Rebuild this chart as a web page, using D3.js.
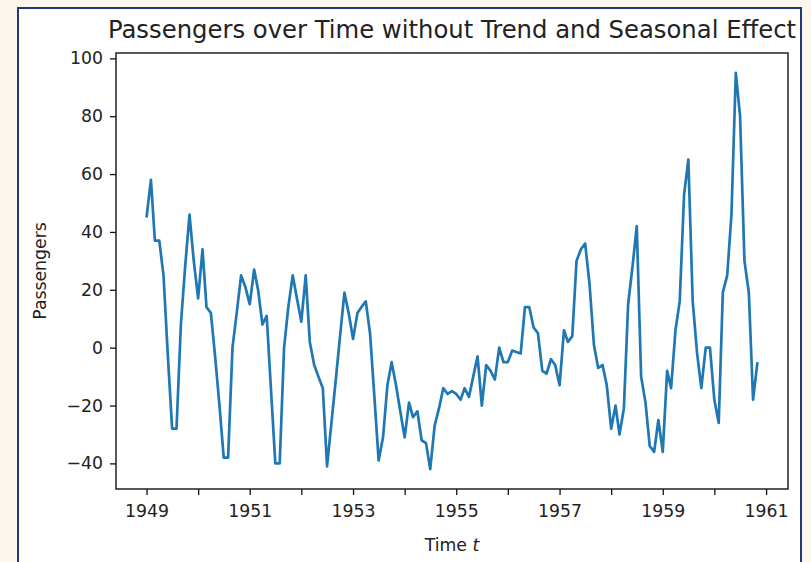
<!DOCTYPE html>
<html>
<head>
<meta charset="utf-8">
<script src="https://cdn.jsdelivr.net/npm/d3@7"></script>
<style>
  body { margin: 0; background: #fdf6ec; }
  text { font-family: "DejaVu Sans", sans-serif; fill: #222; }
</style>
</head>
<body>
<div id="chart"></div>
<script>
// monthly values from Jan 1949 on
const startYear = 1949;
const values = [
  45, 58, 37, 37, 25, -3, -28, -28, 8, 28, 46, 30,
  17, 34, 14, 12, -3, -20, -38, -38, 0, 12, 25, 21,
  15, 27, 20, 8, 11, -15, -40, -40, 0, 14, 25, 17,
  9, 25, 2, -6, -10, -14, -41, -26, -11, 4, 19, 12,
  3, 12, 14, 16, 5, -17, -39, -31, -13, -5, -13, -22,
  -31, -19, -24, -22, -32, -33, -42, -27, -21, -14, -16, -15,
  -16, -18, -14, -17, -10, -3, -20, -6, -8, -11, 0, -5,
  -5, -1, -1.5, -2, 14, 14, 7, 5, -8, -9, -4, -6,
  -13, 6, 2, 4, 30, 34, 36, 22, 1, -7, -6, -13,
  -28, -20, -30, -21, 15, 28, 42, -10, -19, -34, -36, -25,
  -36, -8, -14, 6, 16, 53, 65, 16, -2, -14, 0, 0,
  -18, -26, 19, 25, 46, 95, 80, 30, 19, -18, -5
];
const yTicks = [-40, -20, 0, 20, 40, 60, 80, 100];
const titleText = "Passengers over Time without Trend and Seasonal Effect";
const xLabel = "Time ";
const yLabel = "Passengers";

(function() {
  var outerWidth = 811,
      outerHeight = 562,
      margin = { top: 53, right: 23, bottom: 73, left: 116 },
      width = outerWidth - margin.left - margin.right,
      height = outerHeight - margin.top - margin.bottom;

  var data = values.map((v, i) => ({ date: new Date(startYear, i, 1), value: v }));

  var svg = d3.select("#chart").append("svg")
      .attr("width", outerWidth)
      .attr("height", outerHeight);

  // page frame
  svg.append("rect")
      .attr("width", outerWidth)
      .attr("height", outerHeight)
      .attr("fill", "#fdf6ec");

  svg.append("rect")
      .attr("x", 18)
      .attr("y", 8)
      .attr("width", 783)
      .attr("height", 600)
      .attr("fill", "white")
      .attr("stroke", "#1d3a78")
      .attr("stroke-width", 2);

  // matplotlib style 5% margins
  var tExt = d3.extent(data, d => +d.date),
      tPad = (tExt[1] - tExt[0]) * 0.05,
      vExt = d3.extent(data, d => d.value),
      vPad = (vExt[1] - vExt[0]) * 0.05;

  var x = d3.scaleTime()
      .domain([new Date(tExt[0] - tPad), new Date(tExt[1] + tPad)])
      .range([0, width]);

  var y = d3.scaleLinear()
      .domain([vExt[0] - vPad, vExt[1] + vPad])
      .range([height, 0]);

  var g = svg.append("g")
      .attr("transform", "translate(" + margin.left + "," + margin.top + ")");

  var line = d3.line()
      .x(d => x(d.date))
      .y(d => y(d.value));

  g.append("path")
      .datum(data)
      .attr("d", line)
      .attr("fill", "none")
      .attr("stroke", "#1f77b4")
      .attr("stroke-width", 2.7)
      .attr("stroke-linejoin", "round");

  g.append("rect")
      .attr("width", width)
      .attr("height", height)
      .attr("fill", "none")
      .attr("stroke", "#111")
      .attr("stroke-width", 1.4);

  var xAxis = g.append("g")
      .attr("transform", "translate(0," + height + ")")
      .call(d3.axisBottom(x)
        .ticks(d3.timeYear.every(1))
        .tickSizeOuter(0)
        .tickSize(6)
        .tickPadding(10)
        .tickFormat(d => d.getFullYear() % 2 == 1 ? d3.timeFormat("%Y")(d) : ""));

  var yAxis = g.append("g")
      .call(d3.axisLeft(y)
        .tickValues(yTicks)
        .tickSizeOuter(0)
        .tickSize(6)
        .tickPadding(7));

  [xAxis, yAxis].forEach(a => {
    a.select(".domain").remove();
    a.selectAll(".tick line").attr("stroke", "#111").attr("stroke-width", 1.3);
    a.selectAll(".tick text")
        .attr("font-family", "DejaVu Sans")
        .attr("font-size", "17.3px")
        .attr("fill", "#222");
  });

  svg.append("text")
      .attr("x", margin.left + width / 2)
      .attr("y", 38)
      .attr("text-anchor", "middle")
      .attr("font-size", "24.3px")
      .text(titleText);

  var xl = svg.append("text")
      .attr("x", margin.left + width / 2)
      .attr("y", 551)
      .attr("text-anchor", "middle")
      .attr("font-size", "17.3px")
      .text(xLabel);
  xl.append("tspan")
      .attr("font-style", "italic")
      .text("t");

  svg.append("text")
      .attr("transform", "translate(46," + (margin.top + height / 2) + ") rotate(-90)")
      .attr("text-anchor", "middle")
      .attr("font-size", "17.3px")
      .text(yLabel);
})();
</script>
</body>
</html>
